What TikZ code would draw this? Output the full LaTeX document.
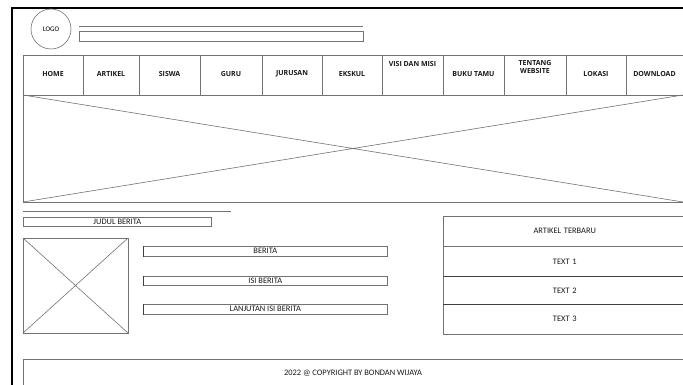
\documentclass[tikz,border=0pt]{standalone}
\usepackage{fontspec}
\setmainfont{Carlito}
\newfontfamily\menufont{Open Sans}
\usetikzlibrary{math}

\begin{document}
\begin{tikzpicture}[x=1pt,y=-1pt,
  wire/.style={draw=black!55, line width=0.6pt},
  darkwire/.style={draw=black!75, line width=0.7pt},
  menulabel/.style={font=\menufont\bfseries\fontsize{7}{8.4}\selectfont, align=center, text=black!90},
  plainlabel/.style={font=\fontsize{8.4}{9}\selectfont, text=black!90},
  barbox/.style={wire, plainlabel, inner sep=0pt, anchor=north west}]
\tikzmath{
\L=23; \R=686;
}
\useasboundingbox (0,0) rectangle (683,385);
\fill[white] (0,0) rectangle (683,385);
\draw[line width=2.6pt] (12,386) -- (12,8) -- (\R,8);

\node[wire, circle, minimum size=40pt, inner sep=0pt, font=\fontsize{7}{8}\selectfont] (logo) at (51,29) {LOGO};
\draw[wire] (79,26) -- (363,26);
\draw[wire] (79,31) rectangle (363,41);

\foreach \a/\b/\y/\t [count=\i] in {23/83/74/HOME, 83/139/74/ARTIKEL, 139/200/74/SISWA, 200/262/74/GURU,
  262/322/74/JURUSAN, 322/382/74/EKSKUL, 382/443/64/VISI DAN MISI, 443/504/74/BUKU TAMU,
  504/566/67/{TENTANG\\WEBSITE}, 566/626/74/LOKASI, 626/686/74/DOWNLOAD}{
  \draw[wire] (\a,55) rectangle (\b,95);
  \node[menulabel] (m\i) at ({min(\a+\b,1309)/2},\y) {\t};
}

\draw[wire] (\L,95) rectangle (\R,202);
\draw[wire] (\L,95) -- (683,202) (\L,202) -- (683,95);

\draw[wire] (\L,211) -- (231,211);
\node[barbox, minimum width=188pt, minimum height=9.5pt] (judul) at (\L,216.5) {JUDUL BERITA};

\draw[wire] (\L,238) rectangle (128,333);
\draw[wire] (\L,238) -- (128,333) (\L,333) -- (128,238);

\node[barbox, minimum width=244pt, minimum height=10pt] (berita) at (143,246) {BERITA};
\node[barbox, minimum width=244pt, minimum height=9.5pt] (isi) at (143,275.5) {ISI BERITA};
\node[barbox, minimum width=244pt, minimum height=10pt] (lanjut) at (143,304) {LANJUTAN ISI BERITA};
\draw[darkwire] (berita.south west) -- (berita.north west);
\draw[darkwire] (isi.south west) -- (isi.north west);
\draw[darkwire] (lanjut.south west) -- (lanjut.north west);

\node[barbox, minimum width=243pt, minimum height=30pt, text width=240pt, align=center] (terbaru) at (443,216) {ARTIKEL TERBARU};
\node[barbox, minimum width=243pt, minimum height=30pt, text width=240pt, align=center] (text1) at (443,246) {TEXT 1};
\node[barbox, minimum width=243pt, minimum height=28pt, text width=240pt, align=center] (text2) at (443,276) {TEXT 2};
\node[barbox, minimum width=243pt, minimum height=30pt, text width=240pt, align=center] (text3) at (443,304) {TEXT 3};
\draw[darkwire] (text2.north west) -- (text2.north east);
\draw[darkwire] (text3.north west) -- (text3.north east);

\draw[wire] (\L,390) -- (\L,359) -- (\R,359);
\node[plainlabel] (footer) at ({(\L+683)/2},373) {2022 @ COPYRIGHT BY BONDAN WIJAYA};
\end{tikzpicture}
\end{document}
